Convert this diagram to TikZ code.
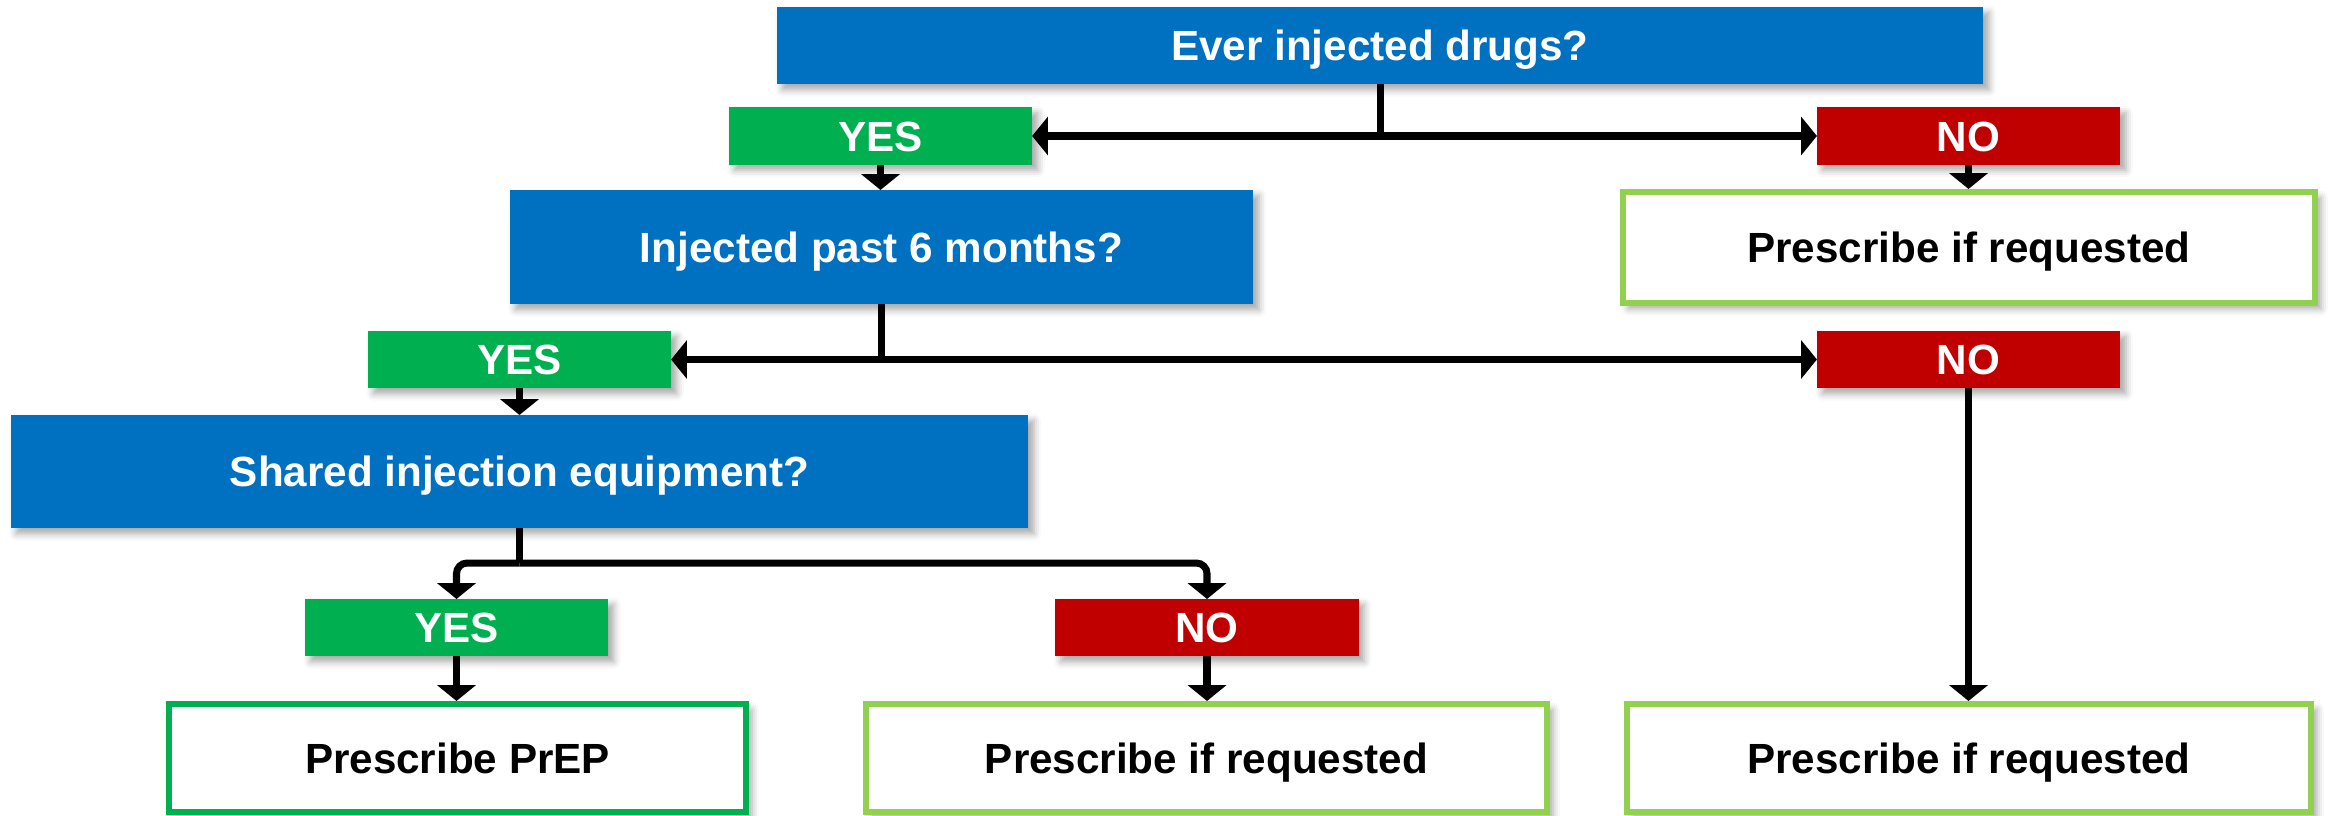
\documentclass[tikz,border=0pt]{standalone}
\usepackage{fontspec}
\setmainfont{Liberation Sans}
\usetikzlibrary{arrows.meta,shadows.blur}
\definecolor{qblue}{HTML}{0070C0}
\definecolor{ygreen}{HTML}{00B050}
\definecolor{nred}{HTML}{C00000}
\definecolor{lgreen}{HTML}{92D050}
\begin{document}
\begin{tikzpicture}[x=0.01cm,y=-0.01cm,
  every node/.style={font=\fontsize{12}{14}\selectfont\bfseries, inner sep=0pt, outer sep=0pt,
    text height=8.6pt, text depth=0pt, align=center},
  sh/.style={blur shadow={shadow xshift=1.6pt, shadow yshift=-1.6pt, shadow blur radius=2pt, shadow opacity=35}},
  qbox/.style={sh, fill=qblue, text=white},
  ybox/.style={sh, fill=ygreen, text=white, minimum width=3.03cm, minimum height=0.57cm},
  nbox/.style={sh, fill=nred, text=white, minimum width=3.03cm, minimum height=0.57cm},
  obox/.style={sh, fill=white, text=black, line width=1.7pt, outer sep=0.85pt, minimum height=1.08cm},
  ln/.style={line width=2pt, black},
  arr/.style={ln, -{Triangle[length=4.5pt,width=10.8pt]}}
]
\useasboundingbox (0,0) rectangle (2330,815);

\node[qbox, minimum width=12.06cm, minimum height=0.77cm] (q1) at (1380,45.5) {Ever injected drugs?};
\node[ybox] (yes1) at (880.5,136) {YES};
\node[nbox] (no1) at (1968.5,136) {NO};
\node[qbox, minimum width=7.43cm, minimum height=1.14cm] (q2) at (881.5,247) {Injected past 6 months?};
\node[obox, draw=lgreen, minimum width=6.92cm, minimum height=1.11cm] (o1) at (1969,247.5) {Prescribe if requested};
\node[ybox] (yes2) at (519.5,359.5) {YES};
\node[nbox] (no2) at (1968.5,359.5) {NO};
\node[qbox, minimum width=10.17cm, minimum height=1.13cm] (q3) at (519.5,471.5) {Shared injection equipment?};
\node[ybox] (yes3) at (456.5,627.5) {YES};
\node[nbox] (no3) at (1207,627.5) {NO};
\node[obox, draw=ygreen, minimum width=5.77cm] (prep) at (457.5,758) {Prescribe PrEP};
\node[obox, draw=lgreen, minimum width=6.81cm] (o2) at (1206.5,758) {Prescribe if requested};
\node[obox, draw=lgreen, minimum width=6.84cm] (o3) at (1969,758) {Prescribe if requested};

\draw[ln] (q1.south) -- (q1.south |- yes1.east) coordinate (j1);
\draw[arr] (j1) -- (yes1.east);
\draw[arr] (j1) -- (no1.west);
\draw[arr] (yes1.south) -- (yes1.south |- q2.north);
\draw[arr] (no1.south) -- (no1.south |- o1.north);
\draw[ln] (q2.south) -- (q2.south |- yes2.east) coordinate (j2);
\draw[arr] (j2) -- (yes2.east);
\draw[arr] (j2) -- (no2.west);
\draw[arr] (yes2.south) -- (yes2.south |- q3.north);
\draw[arr] (no2.south) -- (no2.south |- o3.north);
\draw[ln] (q3.south) -- ++(0,35) coordinate (j3);
\draw[arr, rounded corners=3pt] (j3) -| (yes3.north);
\draw[arr, rounded corners=3pt] (j3) -| (no3.north);
\draw[arr] (yes3.south) -- (yes3.south |- prep.north);
\draw[arr] (no3.south) -- (no3.south |- o2.north);
\end{tikzpicture}
\end{document}
